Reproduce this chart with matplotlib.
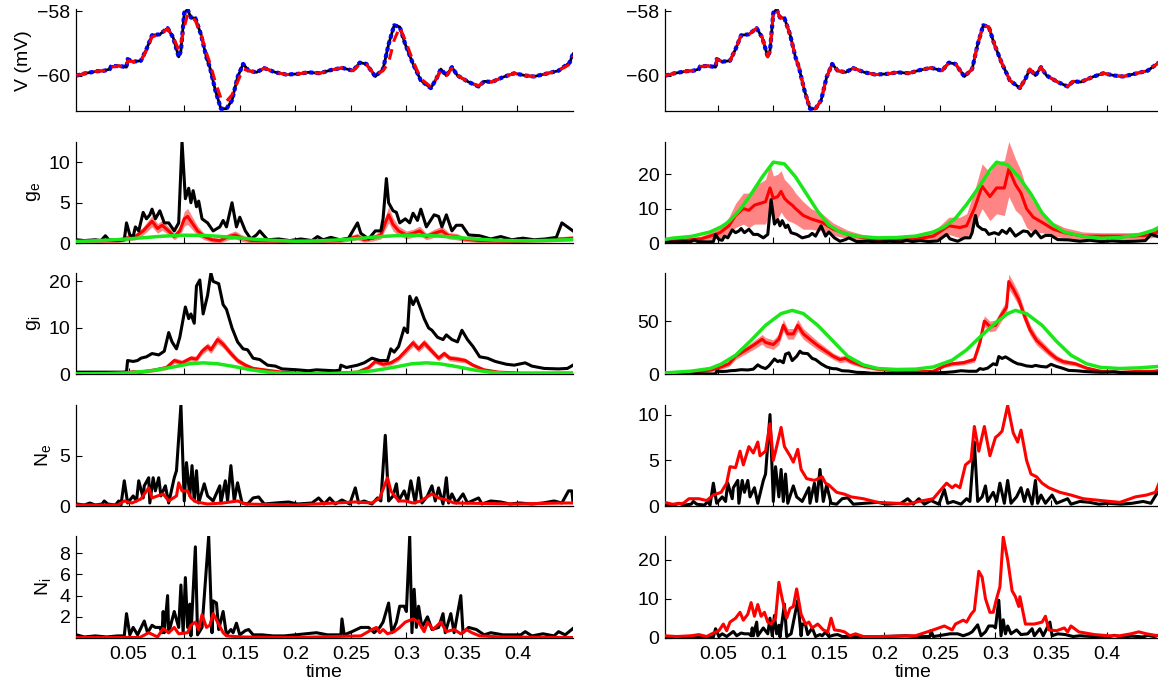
import numpy as np
import matplotlib
matplotlib.use("Agg")
import matplotlib.pyplot as plt

plt.rcParams['font.family'] = ['Liberation Sans', 'DejaVu Sans']
plt.rcParams['font.size'] = 14

# ---------------- membrane potential (mV) ----------------
v_t = [.003, .011, .021, .028, .033, .034, .041, .048, .049, .054, .061, .066, .071, .078,
       .085, .090, .095, .097, .100, .103, .106, .110, .115, .120, .123, .128, .133, .138,
       .143, .148, .153, .158, .165, .172, .182, .192, .202, .212, .222, .232, .242, .252,
       .258, .264, .272, .279, .284, .289, .294, .299, .306, .313, .322, .327, .331, .336,
       .341, .346, .356, .365, .370, .377, .387, .397, .407, .415, .425, .437, .447, .450]
v_true = [-60.0, -59.93, -59.87, -59.85, -59.8, -59.72, -59.7, -59.74, -59.49, -59.57, -59.54,
          -59.18, -58.75, -58.72, -58.53, -58.82, -59.42, -59.23, -58.05, -57.95, -58.2, -58.22,
          -58.72, -59.44, -59.74, -60.46, -61.03, -61.03, -60.77, -60.05, -59.64, -59.85, -59.9,
          -59.77, -59.9, -59.97, -59.95, -59.9, -59.93, -59.83, -59.76, -59.85, -59.6, -59.64,
          -60.03, -59.8, -59.03, -58.44, -58.49, -59.03, -59.64, -60.15, -60.39, -60.1, -59.8,
          -60.0, -59.74, -60.0, -60.2, -60.34, -60.18, -60.2, -60.05, -59.93, -60.0, -60.03,
          -59.95, -59.85, -59.6, -59.33]
v_est = [-60.0, -59.93, -59.87, -59.85, -59.8, -59.74, -59.7, -59.74, -59.55, -59.57, -59.54,
         -59.22, -58.8, -58.72, -58.55, -58.8, -59.2, -59.0, -58.5, -58.1, -58.15, -58.3,
         -58.7, -59.3, -59.6, -60.2, -60.7, -60.8, -60.6, -60.2, -59.8, -59.85, -59.9,
         -59.77, -59.9, -59.97, -59.95, -59.9, -59.93, -59.83, -59.76, -59.85, -59.65, -59.66,
         -60.0, -59.85, -59.6, -58.9, -58.5, -58.9, -59.55, -60.1, -60.35, -60.1, -59.85,
         -60.0, -59.78, -60.0, -60.2, -60.32, -60.18, -60.2, -60.05, -59.93, -60.0, -60.03,
         -59.95, -59.85, -59.65, -59.4]

# ---------------- excitatory conductance ----------------
ge_t = [.003, .010, .020, .025, .029, .032, .040, .046, .048, .051, .054, .056, .059, .063,
        .066, .069, .071, .074, .078, .082, .086, .091, .095, .098, .101, .104, .106, .108,
        .111, .113, .116, .121, .126, .132, .135, .138, .143, .147, .150, .155, .160, .165,
        .168, .175, .185, .195, .205, .215, .220, .225, .232, .240, .248, .256, .259, .266,
        .272, .277, .279, .282, .284, .288, .291, .294, .299, .303, .306, .310, .313, .318,
        .325, .329, .332, .336, .341, .345, .350, .356, .366, .376, .385, .395, .405, .415,
        .425, .435, .440, .445, .450]
ge_true = [.4, .3, .4, .3, .9, .4, .3, .4, 2.5, 1.0, .8, 2.0, 1.5, 3.8, 3.0, 3.5, 4.2, 3.0,
           4.0, 2.5, 2.5, 1.5, 2.5, 12.6, 5.5, 6.8, 5.0, 6.5, 4.5, 5.2, 3.0, 2.5, 1.5, 2.0,
           2.8, 2.0, 5.0, 2.0, 3.2, 1.5, .5, 1.0, 1.5, .4, .5, .3, .5, .3, .8, .4, .7, .4,
           .6, 2.5, 1.2, .5, 1.5, 1.5, 3.0, 8.0, 5.0, 4.0, 3.8, 2.5, 3.0, 2.5, 3.7, 2.8, 4.2,
           2.0, 3.5, 3.3, 2.0, 3.5, 1.5, 2.2, 2.2, 1.0, .9, .5, .8, .4, .6, .4, .5, .7, 2.5,
           2.0, 1.5]

ge_a_t = [.003, .040, .048, .056, .063, .071, .076, .080, .086, .091, .096, .100, .103, .107,
          .112, .118, .125, .132, .140, .146, .152, .160, .200, .240, .256, .262, .270, .277,
          .281, .284, .288, .293, .300, .306, .312, .318, .325, .332, .338, .345, .352, .365,
          .400, .440, .450]
ge_a_mean = [.3, .3, .6, .8, 1.5, 2.7, 1.8, 2.2, 1.5, .8, 1.5, 3.0, 3.3, 2.5, 1.5, .8, .4, .3,
             .8, 1.0, .6, .3, .2, .3, .8, .4, .6, 1.0, 2.5, 3.5, 2.3, 1.5, 1.0, 1.2, 1.5, .8,
             1.2, 1.5, .9, .8, .5, .3, .2, .5, .6]
ge_a_sd = [.25, .25, .35, .4, .5, .7, .6, .6, .5, .4, .6, .9, 1.0, .8, .6, .4, .3, .3, .4, .5,
           .4, .3, .2, .25, .4, .3, .35, .5, .8, 1.0, .8, .6, .5, .5, .6, .4, .5, .6, .4, .4,
           .3, .25, .2, .3, .3]

ge_a_rate_t = [.003, .02, .04, .06, .08, .10, .12, .14, .16, .18, .20, .22, .24, .26, .28,
               .30, .32, .34, .36, .38, .40, .42, .44, .45]
ge_a_rate = [.2, .28, .42, .62, .84, .97, .93, .74, .5, .33, .22, .26, .4, .6, .83, .97, .94,
             .76, .52, .35, .28, .3, .38, .42]

ge_b_t = [.002, .020, .035, .043, .052, .060, .066, .073, .078, .083, .088, .093, .097, .100,
          .104, .107, .110, .113, .117, .120, .127, .134, .144, .154, .167, .181, .194, .215,
          .230, .244, .258, .268, .274, .281, .288, .295, .301, .308, .312, .318, .323, .328,
          .334, .342, .352, .362, .379, .395, .420, .435, .445, .451]
ge_b_mean = [.5, .8, 1.2, 2.0, 3.0, 5.0, 8.0, 10.0, 9.5, 11.0, 11.5, 12.0, 16.0, 13.0, 13.5,
             15.0, 13.0, 12.0, 11.0, 10.0, 8.0, 7.0, 6.0, 4.0, 2.5, 1.5, 1.0, 1.0, 1.2, 2.0,
             5.0, 4.5, 5.0, 10.0, 16.5, 13.5, 16.0, 16.0, 21.5, 17.0, 14.5, 10.0, 7.5, 6.0,
             4.0, 3.0, 2.0, 2.0, 2.0, 2.2, 3.0, 5.0]
ge_b_sd = [.5, .6, .8, 1.0, 1.5, 2.5, 3.5, 4.5, 5.0, 5.5, 6.0, 6.5, 7.0, 6.5, 6.5, 6.0, 5.5,
           5.5, 5.0, 4.5, 4.0, 3.0, 2.5, 1.8, 1.2, .9, .7, .7, .8, 1.2, 2.5, 3.0, 3.5, 5.0,
           6.5, 7.0, 7.5, 8.0, 8.0, 7.5, 6.5, 5.5, 4.5, 3.0, 2.0, 1.5, 1.2, 1.0, 1.0, 1.0,
           1.2, 1.8]

ge_b_rate_t = [.002, .009, .026, .043, .053, .060, .070, .080, .090, .100, .110, .120, .130,
               .140, .150, .160, .174, .194, .211, .228, .244, .254, .264, .274, .285, .295,
               .301, .311, .321, .332, .342, .352, .362, .379, .395, .412, .429, .442, .451]
ge_b_rate = [1.0, 1.4, 1.9, 3.2, 4.7, 6.2, 9.7, 14.2, 19.2, 23.5, 23.0, 19.2, 14.2, 9.2, 5.2,
             3.2, 2.0, 1.5, 1.6, 2.0, 3.2, 4.7, 7.2, 11.2, 16.2, 21.2, 23.5, 22.7, 19.2, 14.2,
             8.7, 5.2, 3.2, 1.9, 1.4, 1.6, 2.4, 3.7, 5.2]

# ---------------- inhibitory conductance ----------------
gi_t = [.003, .030, .045, .048, .049, .054, .058, .061, .066, .071, .077, .082, .086, .089,
        .093, .096, .101, .104, .106, .109, .111, .114, .117, .121, .124, .126, .131, .135,
        .138, .143, .148, .153, .157, .162, .168, .175, .182, .188, .202, .212, .219, .235,
        .240, .241, .246, .256, .262, .269, .276, .283, .286, .289, .293, .298, .301, .303,
        .306, .309, .313, .316, .320, .323, .328, .333, .336, .341, .346, .350, .355, .360,
        .366, .373, .380, .390, .397, .407, .413, .424, .437, .445, .450]
gi_true = [.5, .5, .5, .6, 3.0, 2.8, 3.0, 3.5, 3.8, 4.5, 4.2, 5.0, 9.0, 7.0, 5.5, 8.0, 14.5,
           12.0, 13.0, 11.0, 19.0, 20.3, 13.0, 17.0, 21.8, 20.0, 19.5, 15.0, 14.0, 10.0, 7.0,
           5.5, 5.3, 3.5, 3.2, 2.0, 1.8, 1.2, 1.0, .8, 1.0, .8, .9, 2.0, 1.5, 2.0, 2.5, 3.5,
           3.0, 3.0, 5.5, 4.8, 6.0, 10.0, 9.0, 16.8, 15.0, 16.5, 14.0, 12.0, 10.0, 9.5, 8.0,
           7.5, 8.5, 7.5, 7.0, 9.5, 7.5, 6.0, 3.8, 3.5, 2.8, 2.2, 2.0, 2.5, 1.8, 1.3, 1.2,
           1.3, 2.0]

gi_a_t = [.003, .040, .054, .060, .074, .084, .091, .098, .106, .111, .116, .121, .124, .130,
          .135, .142, .148, .155, .162, .175, .188, .202, .219, .236, .256, .266, .272, .279,
          .286, .293, .299, .306, .311, .316, .323, .329, .334, .339, .346, .353, .360, .370,
          .383, .403, .450]
gi_a_mean = [.1, .1, .6, .5, 1.0, 1.5, 3.0, 2.5, 3.5, 3.3, 5.0, 6.0, 5.3, 7.5, 6.5, 4.5, 3.0,
             2.0, 1.3, .9, .5, .3, .2, .3, .5, 1.5, 2.8, 2.2, 2.5, 3.5, 5.0, 6.8, 5.5, 6.8,
             5.0, 3.5, 4.5, 3.5, 3.3, 3.0, 2.0, 1.0, .5, .3, .3]
gi_a_sd = [.15, .15, .3, .3, .4, .5, .6, .6, .6, .6, .7, .8, .8, .9, .8, .7, .6, .5, .4, .3,
           .25, .2, .2, .2, .3, .4, .5, .5, .5, .6, .7, .8, .7, .8, .7, .6, .6, .6, .6, .5,
           .4, .3, .25, .2, .2]

gi_a_rate_t = [.003, .03, .05, .07, .09, .105, .117, .13, .145, .16, .175, .19, .21, .23,
               .25, .27, .29, .305, .318, .33, .345, .36, .375, .39, .41, .43, .45]
gi_a_rate = [.15, .2, .35, .8, 1.6, 2.3, 2.5, 2.3, 1.7, 1.0, .5, .25, .15, .2, .35, .8, 1.6,
             2.3, 2.5, 2.3, 1.7, 1.0, .5, .25, .15, .2, .3]

gi_b_t = [.003, .026, .043, .053, .060, .066, .077, .083, .090, .093, .100, .105, .109, .113,
          .118, .122, .127, .134, .140, .147, .154, .160, .165, .170, .181, .194, .211, .228,
          .244, .254, .261, .271, .281, .286, .290, .295, .300, .305, .310, .312, .316, .321,
          .326, .331, .337, .344, .349, .355, .361, .372, .382, .395, .412, .429, .442, .451]
gi_b_mean = [.5, 2.0, 4.0, 7.0, 10.0, 17.0, 24.0, 28.0, 33.0, 30.0, 28.0, 33.0, 46.0, 38.0,
             38.0, 46.0, 38.0, 32.0, 27.0, 22.0, 17.0, 14.0, 15.0, 12.0, 8.0, 5.0, 3.5, 2.5,
             3.0, 8.0, 10.0, 11.0, 14.0, 30.0, 50.0, 45.0, 46.0, 55.0, 63.0, 87.0, 80.0,
             70.0, 55.0, 42.0, 32.0, 25.0, 20.0, 15.0, 12.0, 10.0, 6.0, 3.0, 2.0, 3.0, 3.0,
             4.0]
gi_b_sd = [.5, 1.0, 1.5, 2.0, 2.5, 3.0, 3.5, 4.0, 4.5, 4.5, 4.5, 5.0, 5.5, 5.0, 5.0, 5.5,
           5.0, 4.5, 4.0, 3.5, 3.0, 3.0, 3.0, 2.5, 2.0, 1.5, 1.0, 1.0, 1.0, 1.5, 2.0, 2.0,
           2.5, 4.0, 5.0, 5.0, 5.0, 5.5, 6.0, 7.0, 6.5, 6.0, 5.5, 5.0, 4.5, 4.0, 3.5, 3.0,
           2.5, 2.0, 1.5, 1.0, 1.0, 1.0, 1.0, 1.0]

gi_b_rate_t = [.003, .026, .043, .053, .066, .080, .093, .107, .117, .127, .140, .154, .167,
               .181, .194, .211, .228, .244, .261, .274, .288, .301, .311, .318, .328, .342,
               .355, .368, .382, .395, .412, .429, .451]
gi_b_rate = [1.5, 3.1, 5.6, 9.7, 18.0, 32.0, 46.0, 57.0, 60.0, 57.0, 46.0, 31.0, 17.0, 9.0,
             5.6, 4.7, 5.0, 7.0, 13.4, 23.0, 37.0, 49.0, 57.0, 60.0, 57.0, 46.0, 31.0, 18.0,
             10.0, 6.6, 5.6, 6.2, 7.8]

# ---------------- excitatory input counts ----------------
ne_t = [.003, .010, .015, .020, .026, .028, .031, .038, .041, .043, .046, .049, .054, .057,
        .059, .063, .064, .068, .069, .072, .074, .077, .079, .083, .086, .091, .093, .097,
        .100, .102, .105, .107, .109, .111, .113, .118, .121, .126, .132, .133, .137, .139,
        .142, .145, .148, .152, .157, .162, .167, .172, .182, .194, .202, .215, .221, .226,
        .231, .236, .242, .249, .254, .257, .262, .269, .274, .277, .281, .284, .288, .291,
        .293, .298, .301, .304, .308, .311, .314, .319, .323, .326, .329, .333, .336, .338,
        .341, .345, .351, .355, .365, .368, .376, .385, .393, .402, .413, .423, .433, .440,
        .446, .449, .450]
ne_true = [.2, .1, .3, .1, .2, .5, .2, .1, .5, .1, 2.5, .3, 1.0, .5, 2.5, .8, 2.0, 2.8, .3,
           2.8, 1.5, 2.8, 1.0, 2.0, .3, 2.8, 3.5, 10.0, .5, 4.3, 1.0, 4.0, .5, 3.5, .3, 2.2,
           1.0, .5, 2.0, .3, 2.5, .5, 4.0, .5, 2.3, .3, .2, .8, .9, .2, .3, .4, .2, .3, .8,
           .2, .8, .2, .6, .2, 1.8, .3, .5, .2, .8, .5, 7.0, .5, 1.0, 2.2, .5, 1.5, .5, 2.5,
           .3, 2.8, .3, 1.0, 2.0, .5, 1.8, .2, 2.8, .3, 1.2, .3, 1.2, .3, .8, .2, .5, .4, .2,
           .3, .2, .3, .5, .3, 1.5, 1.5, .4]

ne_a_t = [.003, .040, .046, .053, .061, .068, .071, .081, .086, .093, .095, .098, .103, .106,
          .111, .121, .135, .148, .155, .200, .254, .269, .276, .283, .286, .293, .299, .306,
          .313, .323, .329, .336, .343, .400, .440, .450]
ne_a = [.1, .1, .5, .3, .7, 1.8, .8, 1.2, .5, 1.0, 2.3, 1.5, 1.5, .8, .4, .2, .3, .5, .2, .1,
        .4, .3, .8, 2.8, 1.5, .5, .5, .3, .5, 1.2, .8, .6, .3, .2, .3, .3]

ne_b_t = [.002, .009, .019, .024, .033, .040, .046, .053, .058, .061, .066, .070, .073, .078,
          .082, .086, .088, .093, .097, .100, .103, .107, .110, .115, .118, .122, .125, .130,
          .137, .144, .147, .150, .157, .164, .170, .181, .194, .211, .221, .231, .244, .251,
          .256, .261, .264, .268, .273, .278, .281, .285, .290, .295, .300, .303, .306, .311,
          .316, .320, .323, .328, .332, .337, .342, .348, .358, .368, .379, .395, .412, .426,
          .436, .444, .449]
ne_b = [.4, .2, .3, .8, .8, .6, 1.2, 1.5, 2.5, 4.3, 4.2, 6.0, 4.5, 6.5, 5.8, 7.0, 5.5, 6.0,
        9.0, 5.0, 6.5, 8.6, 6.5, 5.5, 4.8, 6.2, 4.0, 3.0, 2.8, 3.2, 2.5, 2.3, 1.5, 1.3, 1.0,
        .8, .4, .3, .2, .5, .8, 1.8, 2.5, 2.0, 2.3, 2.0, 4.5, 5.0, 8.7, 6.0, 8.7, 5.5, 7.5,
        7.8, 8.2, 11.0, 8.0, 7.0, 8.3, 5.0, 3.5, 3.2, 2.5, 2.0, 1.5, 1.2, .8, .6, .4, 1.0,
        1.2, 1.5, 3.0]

# ---------------- inhibitory input counts ----------------
ni_t = [.003, .010, .020, .030, .040, .046, .048, .051, .054, .058, .064, .067, .071, .074,
        .078, .080, .081, .082, .085, .086, .091, .095, .097, .099, .101, .103, .105, .106,
        .110, .112, .116, .122, .125, .126, .129, .131, .135, .138, .142, .144, .147, .150,
        .155, .158, .162, .170, .180, .190, .200, .219, .229, .241, .242, .244, .251, .259,
        .266, .271, .276, .279, .284, .287, .291, .294, .298, .300, .303, .305, .307, .309,
        .311, .314, .319, .323, .329, .333, .335, .340, .343, .349, .351, .356, .363, .370,
        .376, .387, .403, .407, .413, .423, .433, .437, .443, .450]
ni_true = [.3, .1, .2, .1, .2, .2, 2.3, .3, 1.0, .3, 1.6, .5, 1.2, 1.0, 1.0, .5, 2.5, .5,
           4.0, .5, 2.5, 1.0, 5.0, .5, 5.7, 1.0, 3.2, .2, 8.6, .3, 1.0, 9.6, .5, 3.5, 3.3,
           .8, 2.5, .3, .8, .5, 1.4, .3, .7, .8, .3, .3, .2, .2, .3, .5, .3, .3, 1.8, .3, .6,
           1.0, 1.0, .5, 1.0, 1.5, 3.3, .5, 1.5, 3.0, 3.0, 2.5, 9.6, .5, 4.6, 1.0, 3.0, 1.0,
           2.0, .8, 1.0, 2.3, .5, 2.3, .5, 4.0, .5, 1.0, .8, .3, .5, .3, .3, .6, .2, .4, .2,
           .6, .3, .9]

ni_a_t = [.003, .060, .068, .076, .081, .086, .091, .095, .103, .106, .110, .113, .116, .120,
          .123, .126, .130, .135, .138, .152, .200, .259, .269, .273, .276, .279, .283, .289,
          .294, .299, .306, .311, .316, .319, .324, .331, .336, .343, .349, .354, .359, .366,
          .386, .450]
ni_a = [.05, .05, .5, .1, .9, .5, 1.0, .4, .5, 1.2, 1.5, .8, 2.2, 1.0, 1.2, 2.3, 1.5, .5, .2,
        .1, .05, .2, .8, 1.0, .5, .8, .4, .6, 1.0, 1.5, 1.8, 1.5, .6, 1.5, .8, 1.5, .6, .8,
        .4, .8, .5, .2, .1, .05]

ni_b_t = [.002, .013, .026, .033, .040, .046, .051, .055, .058, .061, .066, .070, .073, .077,
          .080, .083, .086, .089, .092, .095, .098, .102, .105, .108, .112, .115, .118, .121,
          .125, .129, .132, .135, .140, .145, .149, .152, .155, .160, .164, .169, .174, .181,
          .194, .211, .228, .244, .254, .261, .264, .271, .274, .278, .281, .285, .288, .291,
          .295, .298, .301, .304, .307, .311, .315, .318, .321, .322, .327, .330, .335, .342,
          .345, .348, .355, .362, .365, .368, .375, .389, .402, .412, .422, .429, .436, .444,
          .449]
ni_b = [.5, .3, .5, .8, .3, 1.2, 1.8, 3.5, 1.8, 4.0, 5.0, 6.5, 4.5, 6.0, 9.0, 5.5, 8.5, 5.5,
        6.5, 4.0, 3.5, 5.0, 14.2, 10.0, 5.0, 7.5, 8.0, 12.5, 6.0, 3.5, 4.0, 2.5, 3.5, 2.0,
        1.5, 5.0, 2.0, 1.8, 1.5, .5, 1.0, .3, .3, .4, .5, 2.0, 3.0, 2.0, 3.5, 4.5, 4.0, 6.0,
        7.0, 17.0, 15.5, 10.0, 6.5, 6.5, 10.0, 13.0, 25.8, 20.0, 12.0, 10.5, 8.0, 10.5, 3.5,
        3.5, 3.5, 4.0, 5.5, 2.0, 1.8, 2.5, 1.5, 3.0, 1.5, .8, .5, .5, 1.0, 1.5, 1.0, .6, .6]

# ---------------- layout ----------------
XLIM = (0.0025, 0.45)
TICKS = [0.05, 0.1, 0.15, 0.2, 0.25, 0.3, 0.35, 0.4]
TICKLABELS = ['0.05', '0.1', '0.15', '0.2', '0.25', '0.3', '0.35', '0.4']
BAND = (1.0, 0.52, 0.52)
GREEN = (0.1, 0.9, 0.1)
FS = 14

fig = plt.figure(figsize=(11.58, 6.88), dpi=100)
row_bottoms = [0.8387, 0.6468, 0.4557, 0.2645, 0.0731]
row_h = 0.1475
col_lefts = [0.0656, 0.5743]
col_w = 0.4292

axes = [[fig.add_axes([cl, rb, col_w, row_h]) for cl in col_lefts] for rb in row_bottoms]

for r in range(5):
    for c in range(2):
        ax = axes[r][c]
        ax.spines['top'].set_visible(False)
        ax.spines['right'].set_visible(False)
        ax.spines['left'].set_linewidth(0.9)
        ax.spines['bottom'].set_linewidth(0.9)
        ax.set_xlim(*XLIM)
        ax.set_xticks(TICKS)
        ax.tick_params(direction='in', length=4, width=0.8, labelsize=FS)
        ax.tick_params(axis='x', pad=6)
        ax.tick_params(axis='y', pad=4)
        if r == 4:
            ax.set_xticklabels(TICKLABELS)
            ax.set_xlabel('time', fontsize=FS, labelpad=1)
        else:
            ax.set_xticklabels([])


def band_plot(ax, t, mean, sd):
    t = np.asarray(t)
    m = np.asarray(mean)
    s = np.asarray(sd)
    ax.fill_between(t, np.clip(m - s, 0, None), m + s, color=BAND, lw=0, zorder=1)
    ax.plot(t, m, color='red', lw=2.2, zorder=2)


# membrane potential: true trace, blue dotted estimate, red dashed estimate
for c in range(2):
    ax = axes[0][c]
    ax.plot(v_t, v_true, color='black', lw=2, zorder=2)
    ax.plot(v_t, v_true, color='blue', lw=3, ls=(0, (0.9, 0.7)), zorder=3)
    ax.plot(v_t, v_est if c == 0 else v_true, color='red', lw=2.2, ls=(0, (3.5, 2.5)),
            zorder=4)
    ax.set_ylim(-61.1, -57.95)
    ax.set_yticks([-60, -58])

# conductances
band_plot(axes[1][0], ge_a_t, ge_a_mean, ge_a_sd)
band_plot(axes[1][1], ge_b_t, ge_b_mean, ge_b_sd)
band_plot(axes[2][0], gi_a_t, gi_a_mean, gi_a_sd)
band_plot(axes[2][1], gi_b_t, gi_b_mean, gi_b_sd)
for c in range(2):
    axes[1][c].plot(ge_t, ge_true, color='black', lw=2.2, zorder=3)
    axes[2][c].plot(gi_t, gi_true, color='black', lw=2.2, zorder=3)
axes[1][0].plot(ge_a_rate_t, ge_a_rate, color=GREEN, lw=2.5, zorder=4)
axes[1][1].plot(ge_b_rate_t, ge_b_rate, color=GREEN, lw=2.5, zorder=4)
axes[2][0].plot(gi_a_rate_t, gi_a_rate, color=GREEN, lw=2.5, zorder=4)
axes[2][1].plot(gi_b_rate_t, gi_b_rate, color=GREEN, lw=2.5, zorder=4)

axes[1][0].set_ylim(0, 12.6); axes[1][0].set_yticks([0, 5, 10])
axes[1][1].set_ylim(0, 29.5); axes[1][1].set_yticks([0, 10, 20])
axes[2][0].set_ylim(0, 21.8); axes[2][0].set_yticks([0, 10, 20])
axes[2][1].set_ylim(0, 95); axes[2][1].set_yticks([0, 50])

# input counts
for c in range(2):
    axes[3][c].plot(ne_t, ne_true, color='black', lw=2.2, zorder=2)
    axes[4][c].plot(ni_t, ni_true, color='black', lw=2.2, zorder=2)
axes[3][0].plot(ne_a_t, ne_a, color='red', lw=2.2, zorder=3)
axes[3][1].plot(ne_b_t, ne_b, color='red', lw=2.2, zorder=3)
axes[4][0].plot(ni_a_t, ni_a, color='red', lw=2.2, zorder=3)
axes[4][1].plot(ni_b_t, ni_b, color='red', lw=2.2, zorder=3)

axes[3][0].set_ylim(0, 10.05); axes[3][0].set_yticks([0, 5])
axes[3][1].set_ylim(0, 11.1); axes[3][1].set_yticks([0, 5, 10])
axes[4][0].set_ylim(0.03, 9.6); axes[4][0].set_yticks([2, 4, 6, 8])
axes[4][1].set_ylim(0, 26); axes[4][1].set_yticks([0, 10, 20])

labels = ['V (mV)', r'g$_\mathregular{e}$', r'g$_\mathregular{i}$',
          r'N$_\mathregular{e}$', r'N$_\mathregular{i}$']
for r, lab in enumerate(labels):
    axes[r][0].set_ylabel(lab, fontsize=FS, labelpad=4)

fig.savefig('out.png', dpi=100)
